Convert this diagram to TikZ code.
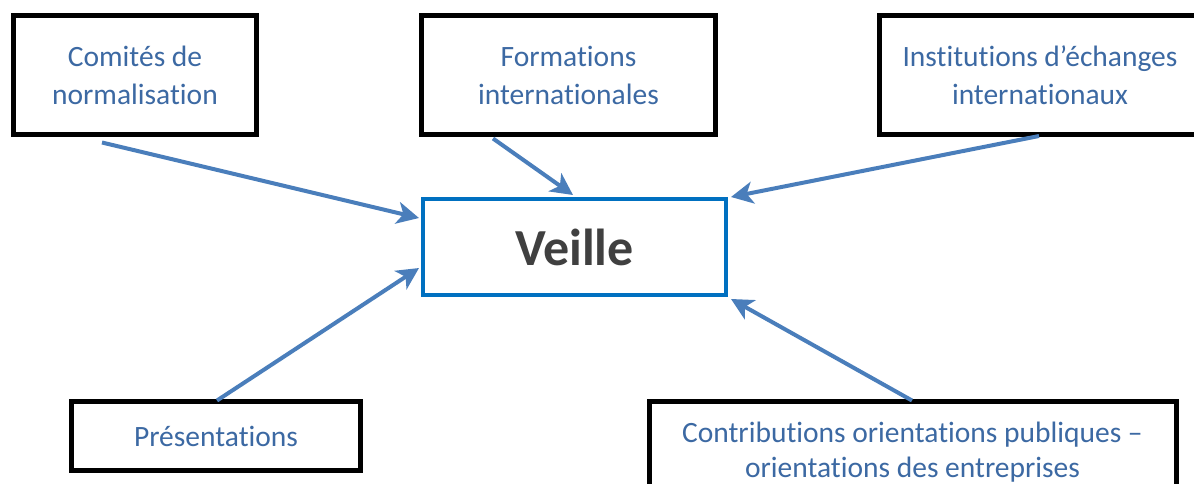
\documentclass[tikz,border=0pt]{standalone}
\usepackage{fontspec}
\setmainfont[Ligatures=NoCommon]{Carlito}
\usetikzlibrary{arrows.meta,calc}
\definecolor{labelblue}{HTML}{3C69A3}
\definecolor{arrowblue}{HTML}{4A7EBB}
\definecolor{hubblue}{HTML}{0070C0}
\definecolor{hubtext}{HTML}{404040}
\begin{document}
\begin{tikzpicture}[x=1pt,y=-1pt,
  source/.style={draw=black,line width=5pt,fill=white,inner sep=0pt,
    align=center,text=labelblue,font=\fontsize{29.5}{38}\selectfont},
  hub/.style={draw=hubblue,line width=4pt,fill=white,inner sep=0pt,
    text=hubtext,font=\fontsize{52}{60}\selectfont\bfseries},
  feed/.style={draw=arrowblue,line width=4pt,
    -{Stealth[length=22pt,width=22pt,inset=6pt,fill=arrowblue]}}]
\useasboundingbox (0,0) rectangle (1194,483);

% information sources
\node[source,minimum width=243pt,minimum height=119pt] (c1) at (135,75)
  {Comités de\\normalisation};
\node[source,minimum width=294pt,minimum height=119pt] (c2) at (568.5,75)
  {Formations\\internationales};
\node[source,minimum width=321pt,minimum height=119pt] (c3) at (1040,75)
  {Institutions d’échanges\\internationaux};
\node[source,minimum width=289pt,minimum height=69pt] (c4) at (216,436)
  {Présentations};
\node[source,minimum width=527pt,minimum height=101pt,
  font=\fontsize{29.5}{35}\selectfont] (c5) at (912.5,452)
  {Contributions orientations publiques –\\orientations des entreprises};

% central box
\node[hub,minimum width=303pt,minimum height=96pt] (v) at (574.5,247) {Veille};

% arrows feeding the central box
\draw[feed] ($(c1.south)+(-33,5.5)$) -- ($(v.west)+(-2,-29)$);
\draw[feed] ($(c2.south)+(-75.5,1.5)$) -- ($(v.north)+(-1.5,-2)$);
\draw[feed] ($(c3.south)+(-1,-1)$) -- ($(v.north east)+(3,0)$);
\draw[feed] ($(c4.north)+(1,1.5)$) -- ($(v.west)+(-2,21)$);
\draw[feed] ($(c5.north)+(-0.5,1.5)$) -- ($(v.south east)+(3,2)$);
\end{tikzpicture}
\end{document}
